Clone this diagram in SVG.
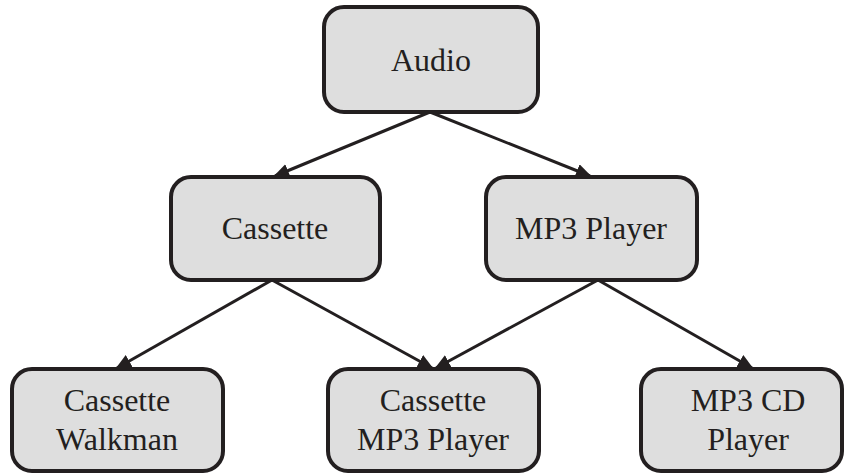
<svg xmlns="http://www.w3.org/2000/svg" width="845" height="475" viewBox="0 0 845 475">
<style>
.box{fill:#dedede;stroke:#231f20;stroke-width:4}
.lbl{font-family:"Liberation Serif","Times New Roman",serif;font-size:32px;fill:#231f20;text-anchor:middle}
.edge{stroke:#231f20;stroke-width:3;fill:none;marker-end:url(#ah)}
</style>
<defs>
<marker id="ah" markerUnits="userSpaceOnUse" markerWidth="16" markerHeight="14" refX="14" refY="7" orient="auto">
<path d="M0,0 L16,7 L0,14 Z" fill="#231f20"/>
</marker>
</defs>
<rect width="845" height="475" fill="#ffffff"/>
<g id="connectors">
<line class="edge" x1="430" y1="112" x2="275" y2="176"/>
<line class="edge" x1="430" y1="112" x2="590" y2="176"/>
<line class="edge" x1="272" y1="280" x2="117" y2="368"/>
<line class="edge" x1="272" y1="280" x2="432" y2="368"/>
<line class="edge" x1="598" y1="280" x2="436" y2="368"/>
<line class="edge" x1="598" y1="280" x2="752" y2="368"/>
</g>
<g id="audio">
<rect class="box" x="324" y="7" width="214" height="105" rx="20"/>
<text class="lbl" x="431" y="71">Audio</text>
</g>
<g id="cassette">
<rect class="box" x="171" y="177" width="209" height="103" rx="20"/>
<text class="lbl" x="275" y="239">Cassette</text>
</g>
<g id="mp3player">
<rect class="box" x="486" y="177" width="211" height="103" rx="20"/>
<text class="lbl" x="591" y="239">MP3 Player</text>
</g>
<g id="walkman">
<rect class="box" x="12" y="369" width="211" height="102" rx="20"/>
<text class="lbl" x="117" y="411">Cassette</text>
<text class="lbl" x="117" y="450">Walkman</text>
</g>
<g id="cassettemp3">
<rect class="box" x="328" y="369" width="211" height="102" rx="20"/>
<text class="lbl" x="433" y="411">Cassette</text>
<text class="lbl" x="433" y="450">MP3 Player</text>
</g>
<g id="mp3cd">
<rect class="box" x="641" y="369" width="201" height="102" rx="20"/>
<text class="lbl" x="748" y="411">MP3 CD</text>
<text class="lbl" x="748" y="450">Player</text>
</g>
</svg>
